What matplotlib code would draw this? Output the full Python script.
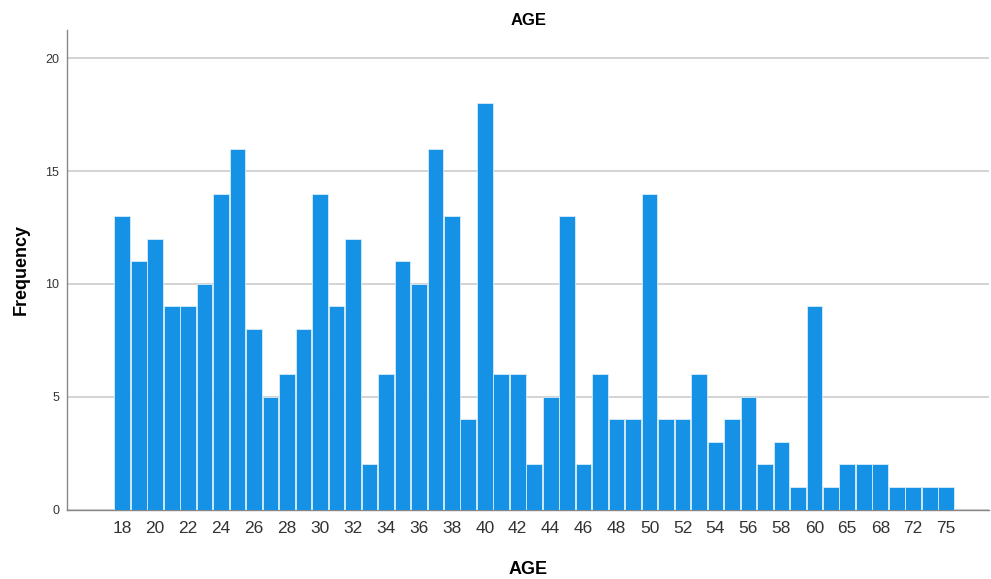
import matplotlib
matplotlib.use("Agg")
from matplotlib import pyplot as plt

plt.rcParams['font.family'] = ['Liberation Sans', 'DejaVu Sans']

# ages shown on the axis (unlabelled slots in between are every other bar)
ages = ['18', '19', '20', '21', '22', '23', '24', '25', '26', '27',
        '28', '29', '30', '31', '32', '33', '34', '35', '36', '37',
        '38', '39', '40', '41', '42', '43', '44', '45', '46', '47',
        '48', '49', '50', '51', '52', '53', '54', '55', '56', '57',
        '58', '59', '60', '62', '65', '67', '68', '70', '72', '73', '75']
counts = [13, 11, 12, 9, 9, 10, 14, 16, 8, 5,
          6, 8, 14, 9, 12, 2, 6, 11, 10, 16,
          13, 4, 18, 6, 6, 2, 5, 13, 2, 6,
          4, 4, 14, 4, 4, 6, 3, 4, 5, 2,
          3, 1, 9, 1, 2, 2, 2, 1, 1, 1, 1]
y_ticks = [0, 5, 10, 15, 20]

fig = plt.figure(figsize=(9.91, 5.79), dpi=100)
ax = fig.add_axes([0.068, 0.12, 0.93, 0.828])

pos = range(len(ages))
ax.bar(pos, counts, width=0.95, color='#1591e6',
       edgecolor='#d8ecfb', linewidth=0.6, zorder=3)

ax.set_xlim(-3.33, len(ages) + 1.6)
ax.set_ylim(0, 21.25)
ax.set_yticks(y_ticks)
ax.yaxis.grid(True, color='#cccccc', linewidth=1.2, zorder=0)

ax.set_xticks(list(pos)[::2])
ax.set_xticklabels(ages[::2], fontsize=12.5, color='#333333')
ax.tick_params(axis='x', length=0, pad=8)
ax.tick_params(axis='y', length=0, labelsize=9, pad=6, colors='#333333')

for side in ['top', 'right']:
    ax.spines[side].set_visible(False)
for side in ['left', 'bottom']:
    ax.spines[side].set_color('#888888')
    ax.spines[side].set_linewidth(1.0)

ax.set_title('AGE', fontsize=12, fontweight='bold', pad=4)
ax.set_xlabel('AGE', fontsize=13, fontweight='bold', labelpad=18)
ax.set_ylabel('Frequency', fontsize=13, fontweight='bold', labelpad=11)

fig.savefig('out.png', dpi=100)
